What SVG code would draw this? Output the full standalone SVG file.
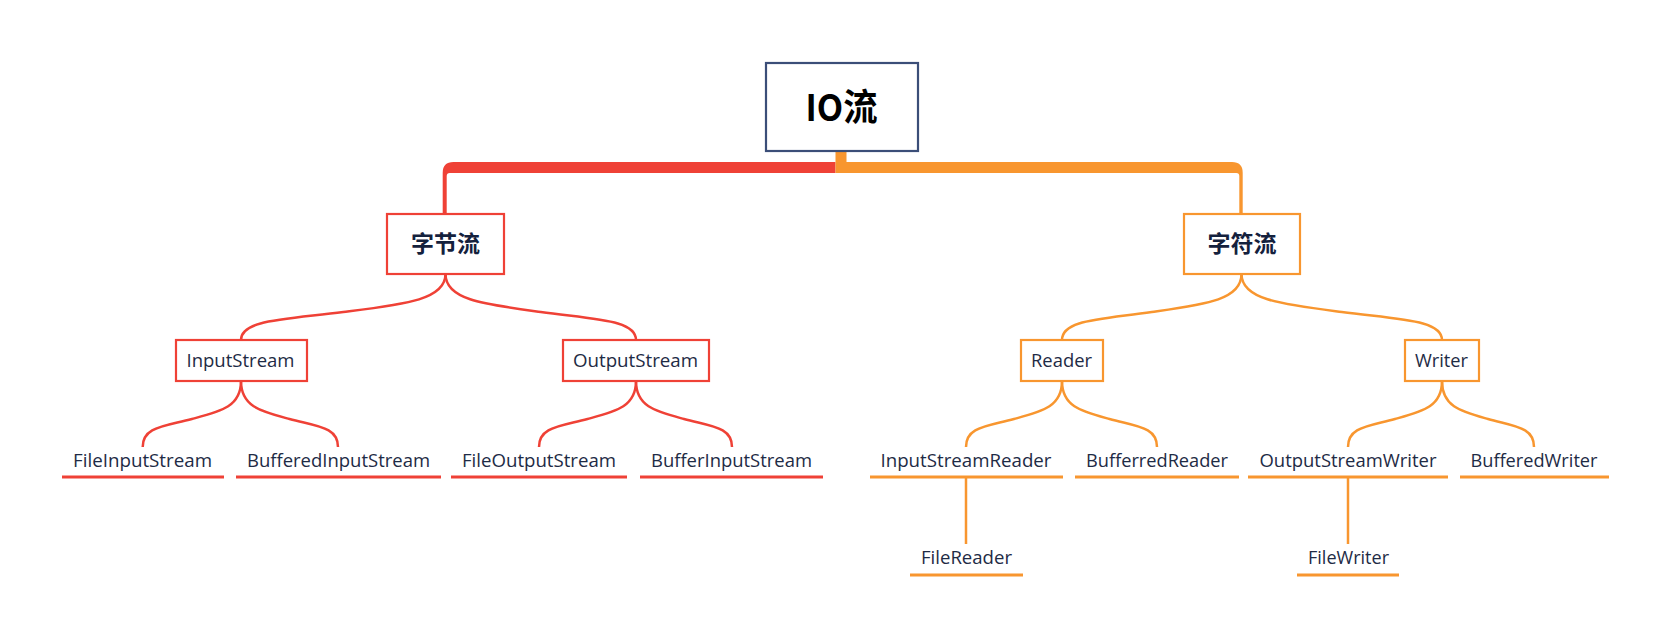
<svg xmlns="http://www.w3.org/2000/svg" width="1671" height="638" viewBox="0 0 1671 638">
<style>
.bg{fill:#ffffff}
.lbl{font-family:"Open Sans","Noto Sans","Noto Sans CJK SC",sans-serif;font-size:18px;fill:#1e2b45;text-anchor:middle}
.cjk{font-family:"Noto Sans CJK SC","Noto Sans",sans-serif;font-weight:bold;fill:#14213d;text-anchor:middle;font-size:23px}
.root{font-family:"Noto Sans CJK SC","Noto Sans",sans-serif;font-weight:bold;fill:#000;text-anchor:middle;font-size:37px}
.r{stroke:#ef4136}
.o{stroke:#f8962f}
.box{fill:#fff;stroke-width:2.2}
.ln{fill:none;stroke-width:2.5}
.ul{fill:none;stroke-width:3}
</style>
<rect class="bg" x="0" y="0" width="1671" height="638"/>
<g id="connectors">
<path d="M835.5,162 L453.5,162 Q442.7,162 442.7,172.7 L442.7,214 L446.7,214 L446.7,176 Q446.7,173 449.7,173 L835.5,173 Z" fill="#ef4136"/>
<path d="M835.5,151 L846.5,151 L846.5,162 L1232,162 Q1242.7,162 1242.7,172.7 L1242.7,214 L1239.3,214 L1239.3,176 Q1239.3,173 1236.3,173 L835.5,173 Z" fill="#f8962f"/>
<path class="ln r" d="M445.5,274 C445.5,300 404.2,304.3 343.3,312 S241,320 241,340"/>
<path class="ln r" d="M445.5,274 C445.5,300 484.2,304.3 540.8,312 S636,320 636,340"/>
<path class="ln o" d="M1241.5,274 C1241.5,300 1205.1,304.3 1151.8,312 S1062,320 1062,340"/>
<path class="ln o" d="M1241.5,274 C1241.5,300 1282.2,304.3 1341.8,312 S1442,320 1442,340"/>
<path class="ln r" d="M241,381 C241,407 220.4,411.4 191.9,419 S142.7,427 142.7,447"/>
<path class="ln r" d="M241,381 C241,407 261.4,411.4 289.5,419 S338,427 338,447"/>
<path class="ln r" d="M636,381 C636,407 615.6,411.4 587.5,419 S539,427 539,447"/>
<path class="ln r" d="M636,381 C636,407 656.2,411.4 684,419 S732,427 732,447"/>
<path class="ln o" d="M1062,381 C1062,407 1041.8,411.4 1014,419 S966,427 966,447"/>
<path class="ln o" d="M1062,381 C1062,407 1081.9,411.4 1109.5,419 S1157,427 1157,447"/>
<path class="ln o" d="M1442,381 C1442,407 1422.3,411.4 1395,419 S1348,427 1348,447"/>
<path class="ln o" d="M1442,381 C1442,407 1461.3,411.4 1488,419 S1534,427 1534,447"/>
<path class="ln o" d="M966,478 L966,544"/>
<path class="ln o" d="M1348,478 L1348,544"/>
</g>
<g id="root">
<rect x="766" y="63" width="152" height="88" fill="#fff" stroke="#3b4e78" stroke-width="2.2"/>
<text class="root" x="841.5" y="121" textLength="72" lengthAdjust="spacingAndGlyphs">IO流</text>
</g>
<g id="byte-stream">
<rect class="box r" x="387" y="214" width="117" height="60"/>
<text class="cjk" x="445.5" y="252">字节流</text>
</g>
<g id="char-stream">
<rect class="box o" x="1184" y="214" width="116" height="60"/>
<text class="cjk" x="1242" y="252">字符流</text>
</g>
<g id="inputstream">
<rect class="box r" x="176" y="340" width="131" height="41"/>
<text class="lbl" x="240.5" y="366.5" textLength="108" lengthAdjust="spacingAndGlyphs">InputStream</text>
</g>
<g id="outputstream">
<rect class="box r" x="563" y="340" width="146" height="41"/>
<text class="lbl" x="635.5" y="366.5" textLength="125" lengthAdjust="spacingAndGlyphs">OutputStream</text>
</g>
<g id="reader">
<rect class="box o" x="1021" y="340" width="82" height="41"/>
<text class="lbl" x="1061.5" y="366.5" textLength="61" lengthAdjust="spacingAndGlyphs">Reader</text>
</g>
<g id="writer">
<rect class="box o" x="1405" y="340" width="74" height="41"/>
<text class="lbl" x="1441.5" y="366.5" textLength="53" lengthAdjust="spacingAndGlyphs">Writer</text>
</g>
<g id="fileinputstream">
<text class="lbl" x="142.5" y="466.5" textLength="139" lengthAdjust="spacingAndGlyphs">FileInputStream</text>
<line class="ul r" x1="62" y1="477" x2="224" y2="477"/>
</g>
<g id="bufferedinputstream">
<text class="lbl" x="338.5" y="466.5" textLength="183" lengthAdjust="spacingAndGlyphs">BufferedInputStream</text>
<line class="ul r" x1="236" y1="477" x2="441" y2="477"/>
</g>
<g id="fileoutputstream">
<text class="lbl" x="539" y="466.5" textLength="154" lengthAdjust="spacingAndGlyphs">FileOutputStream</text>
<line class="ul r" x1="451" y1="477" x2="627" y2="477"/>
</g>
<g id="bufferinputstream">
<text class="lbl" x="731.5" y="466.5" textLength="161" lengthAdjust="spacingAndGlyphs">BufferInputStream</text>
<line class="ul r" x1="640" y1="477" x2="823" y2="477"/>
</g>
<g id="inputstreamreader">
<text class="lbl" x="966" y="466.5" textLength="171" lengthAdjust="spacingAndGlyphs">InputStreamReader</text>
<line class="ul o" x1="870" y1="477" x2="1063" y2="477"/>
</g>
<g id="bufferredreader">
<text class="lbl" x="1157" y="466.5" textLength="142" lengthAdjust="spacingAndGlyphs">BufferredReader</text>
<line class="ul o" x1="1075" y1="477" x2="1239" y2="477"/>
</g>
<g id="outputstreamwriter">
<text class="lbl" x="1348" y="466.5" textLength="177" lengthAdjust="spacingAndGlyphs">OutputStreamWriter</text>
<line class="ul o" x1="1248" y1="477" x2="1448" y2="477"/>
</g>
<g id="bufferedwriter">
<text class="lbl" x="1534" y="466.5" textLength="127" lengthAdjust="spacingAndGlyphs">BufferedWriter</text>
<line class="ul o" x1="1460" y1="477" x2="1609" y2="477"/>
</g>
<g id="filereader">
<text class="lbl" x="966.5" y="563.5" textLength="91" lengthAdjust="spacingAndGlyphs">FileReader</text>
<line class="ul o" x1="910" y1="575" x2="1023" y2="575"/>
</g>
<g id="filewriter">
<text class="lbl" x="1348.5" y="563.5" textLength="81" lengthAdjust="spacingAndGlyphs">FileWriter</text>
<line class="ul o" x1="1297" y1="575" x2="1399" y2="575"/>
</g>
</svg>
